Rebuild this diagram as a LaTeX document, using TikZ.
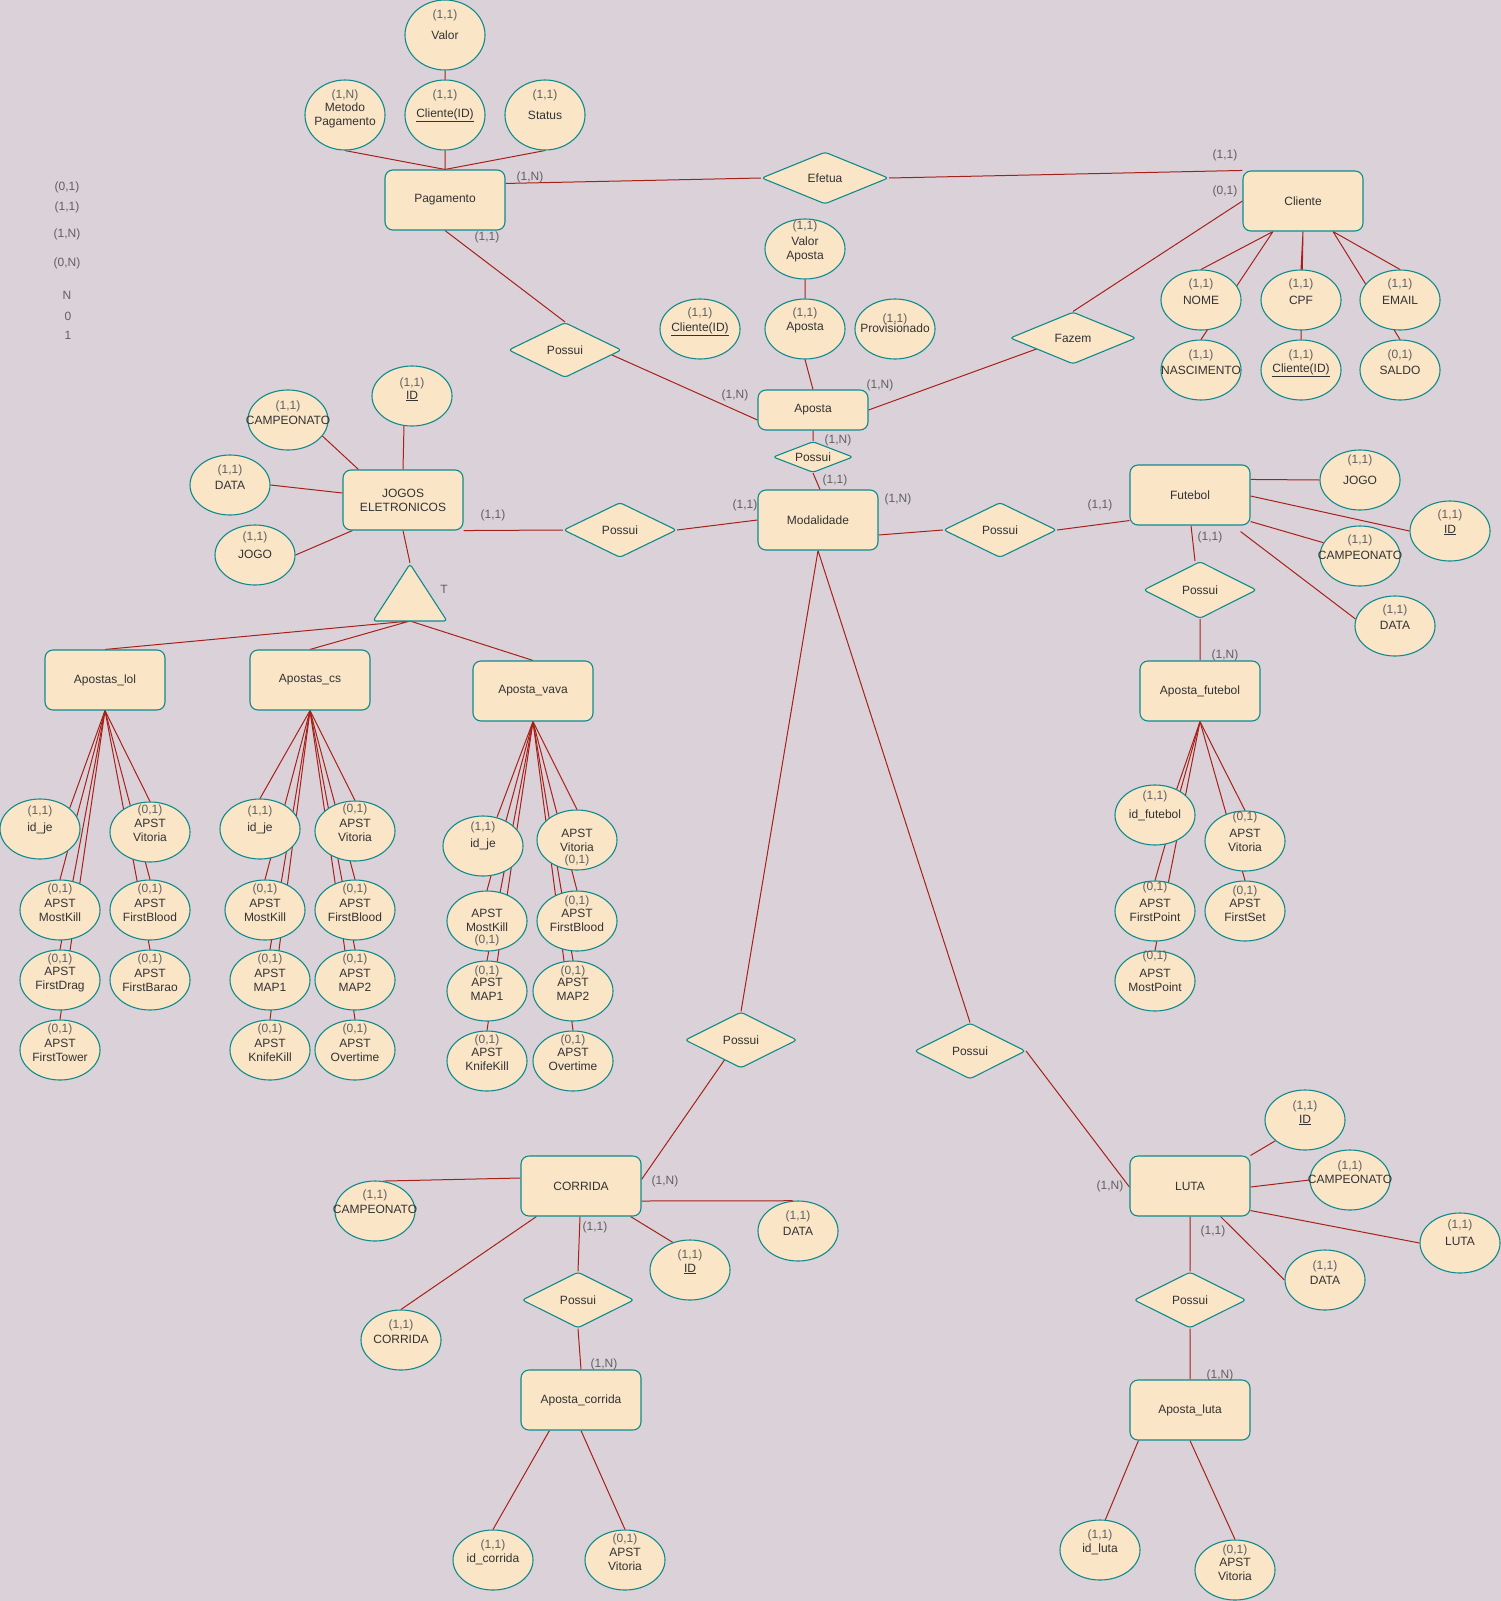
\documentclass[tikz,border=0pt]{standalone}
\usepackage{fontspec}
\setmainfont{Liberation Sans}
\usetikzlibrary{shapes.geometric,calc}
\pgfdeclarelayer{bg}
\pgfsetlayers{bg,main}
\definecolor{bgc}{HTML}{DAD2D8}
\definecolor{fillc}{HTML}{FAE5C7}
\definecolor{strokec}{HTML}{0F8B8D}
\definecolor{edgec}{HTML}{A8201A}
\definecolor{namec}{HTML}{333333}
\definecolor{cardc}{HTML}{606060}
\tikzset{
 every node/.style={font=\fontsize{12}{14}\selectfont},
 entbox/.style={draw=strokec, fill=fillc, line width=1.1pt, rounded corners=8pt, minimum width=120pt, minimum height=60pt, inner sep=0pt, text=namec, align=center},
 relbox/.style={diamond, aspect=2, draw=strokec, fill=fillc, line width=1.1pt, rounded corners=3pt, inner sep=0pt, text=namec, minimum width=113pt, minimum height=55pt},
 attrbox/.style={ellipse, draw=strokec, fill=fillc, line width=1.1pt, inner sep=0pt, minimum width=80pt, minimum height=60pt},
 nametxt/.style={text=namec, inner sep=0pt, align=center},
 cardtxt/.style={text=cardc, inner sep=0pt},
 conn/.style={draw=edgec, line width=1pt},
}
% #1 opts, #2 name, #3 x, #4 y, #5 card y, #6 card, #7 name y, #8 name text
\newcommand\erattr[8][]{%
  \node[attrbox,#1] (#2) at (#3,#4) {};
  \node[cardtxt] (#2-c) at (#3,#5) {#6};
  \node[nametxt] (#2-n) at (#3,#7) {#8};
}
\begin{document}
\begin{tikzpicture}[x=1pt,y=-1pt]
\useasboundingbox (0,0) rectangle (1501,1601);

% entities
\node[entbox] (pag) at (445,200) {Pagamento};
\node[entbox] (cli) at (1303,201) {Cliente};
\node[entbox, minimum width=110pt, minimum height=40pt] (apo) at (813,410) {Aposta};
\node[entbox] (mod) at (818,520) {Modalidade};
\node[entbox] (je) at (403,500) {JOGOS\\ELETRONICOS};
\node[entbox] (lol) at (105,680) {Apostas\_lol};
\node[entbox] (cs) at (310,680) {Apostas\_cs};
\node[entbox] (vava) at (533,691) {Aposta\_vava};
\node[entbox] (fut) at (1190,495) {Futebol};
\node[entbox] (afut) at (1200,691) {Aposta\_futebol};
\node[entbox] (cor) at (581,1186) {CORRIDA};
\node[entbox] (acor) at (581,1400) {Aposta\_corrida};
\node[entbox] (luta) at (1190,1186) {LUTA};
\node[entbox] (aluta) at (1190,1410) {Aposta\_luta};

% relationships
\node[relbox, minimum width=127pt, minimum height=52pt] (efetua) at (825,178) {Efetua};
\node[relbox, minimum width=126pt, minimum height=52pt] (fazem) at (1073,338) {Fazem};
\node[relbox] (pos1) at (565,350) {Possui};
\node[relbox, aspect=2.6, minimum width=80pt, minimum height=31pt] (pos2) at (813,457) {Possui};
\node[relbox] (posje) at (620,530) {Possui};
\node[relbox] (posfut) at (1000,530) {Possui};
\node[relbox, minimum height=57pt] (posf2) at (1200,590) {Possui};
\node[relbox, minimum width=112pt, minimum height=56pt] (poscor) at (741,1040) {Possui};
\node[relbox, minimum width=111pt, minimum height=56pt] (posluta) at (970,1051) {Possui};
\node[relbox, minimum width=112pt, minimum height=56pt] (posc2) at (578,1300) {Possui};
\node[relbox, minimum width=112pt, minimum height=56pt] (posl2) at (1190,1300) {Possui};

% specialisation triangle
\draw[draw=strokec, fill=fillc, line width=1.1pt, rounded corners=3pt] (410,564) -- (447,621) -- (373,621) -- cycle;
\coordinate (triT) at (410,563);
\coordinate (triB) at (410,621);
\node[cardtxt] (k21) at (444,589) {T};

% attributes: top
\erattr[minimum height=70pt]{valor}{445}{35}{15}{(1,1)}{35}{Valor}
\erattr[minimum height=70pt]{metodo}{345}{115}{95}{(1,N)}{115.5}{Metodo\\Pagamento}
\erattr[minimum height=70pt]{cidp}{445}{115}{95}{(1,1)}{115}{\underline{Cliente(ID)}}
\erattr[minimum height=70pt]{status}{545}{115}{95}{(1,1)}{115}{Status}
% cliente
\erattr{nome}{1201}{300}{284}{(1,1)}{300}{NOME}
\erattr{cpf}{1301}{300}{284}{(1,1)}{300}{CPF}
\erattr{email}{1400}{300}{284}{(1,1)}{300}{EMAIL}
\erattr{nasc}{1201}{370}{355}{(1,1)}{370}{NASCIMENTO}
\erattr{cidc}{1301}{370}{355}{(1,1)}{370}{\underline{Cliente(ID)}}
\erattr{saldo}{1400}{370}{355}{(0,1)}{370}{SALDO}
% aposta
\erattr{vap}{805}{249}{226}{(1,1)}{249.5}{Valor\\Aposta}
\erattr{aap}{805}{329}{313}{(1,1)}{328}{Aposta}
\erattr{cida}{700}{329}{313}{(1,1)}{329}{\underline{Cliente(ID)}}
\erattr{prov}{895}{329}{319}{(1,1)}{328}{Provisionado}
% jogos eletronicos
\erattr{jeid}{412}{396}{383}{(1,1)}{396}{\underline{ID}}
\erattr{jecamp}{288}{420}{406}{(1,1)}{420}{CAMPEONATO}
\erattr{jedata}{230}{485}{470}{(1,1)}{485}{DATA}
\erattr{jejogo}{255}{555}{537}{(1,1)}{554}{JOGO}
% lol
\erattr{lolid}{40}{829}{811}{(1,1)}{828}{id\_je}
\erattr{lolvit}{150}{832}{810}{(0,1)}{830.5}{APST\\Vitoria}
\erattr{lolmk}{60}{910}{889}{(0,1)}{910}{APST\\MostKill}
\erattr{lolfb}{150}{910}{889}{(0,1)}{910}{APST\\FirstBlood}
\erattr{lolfd}{60}{980}{959}{(0,1)}{980}{APST\\FirstDrag}
\erattr{lolfbar}{150}{980}{959}{(0,1)}{980}{APST\\FirstBarao}
\erattr{lolft}{60}{1050}{1029}{(0,1)}{1050}{APST\\FirstTower}
% cs
\erattr{csid}{260}{829}{811}{(1,1)}{828}{id\_je}
\erattr{csvit}{355}{831}{809}{(0,1)}{830}{APST\\Vitoria}
\erattr{csmk}{265}{910}{889}{(0,1)}{910}{APST\\MostKill}
\erattr{csfb}{355}{910}{889}{(0,1)}{910}{APST\\FirstBlood}
\erattr{csm1}{270}{980}{959}{(0,1)}{980}{APST\\MAP1}
\erattr{csm2}{355}{980}{959}{(0,1)}{980}{APST\\MAP2}
\erattr{cskk}{270}{1050}{1029}{(0,1)}{1050}{APST\\KnifeKill}
\erattr{csot}{355}{1050}{1029}{(0,1)}{1050}{APST\\Overtime}
% vava
\erattr{vid}{483}{846}{827}{(1,1)}{844}{id\_je}
\erattr{vvit}{577}{840}{860}{(0,1)}{840}{APST\\Vitoria}
\erattr{vmk}{487}{921}{940}{(0,1)}{920}{APST\\MostKill}
\erattr{vfb}{577}{921}{901}{(0,1)}{920}{APST\\FirstBlood}
\erattr{vm1}{487}{991}{971}{(0,1)}{989.5}{APST\\MAP1}
\erattr{vm2}{573}{991}{971}{(0,1)}{989.5}{APST\\MAP2}
\erattr{vkk}{487}{1061}{1040}{(0,1)}{1059.5}{APST\\KnifeKill}
\erattr{vot}{573}{1061}{1040}{(0,1)}{1059.5}{APST\\Overtime}
% futebol
\erattr{fjogo}{1360}{480}{460}{(1,1)}{480}{JOGO}
\erattr{fid}{1450}{531}{515}{(1,1)}{530}{\underline{ID}}
\erattr{fcamp}{1360}{556}{540}{(1,1)}{555}{CAMPEONATO}
\erattr{fdata}{1395}{626}{610}{(1,1)}{625}{DATA}
\erattr{fidf}{1155}{815}{796}{(1,1)}{815}{id\_futebol}
\erattr{fvit}{1245}{841}{817}{(0,1)}{840}{APST\\Vitoria}
\erattr{ffp}{1155}{911}{887}{(0,1)}{910.5}{APST\\FirstPoint}
\erattr{ffs}{1245}{911}{891}{(0,1)}{910.5}{APST\\FirstSet}
\erattr{fmp}{1155}{981}{956}{(0,1)}{980.5}{APST\\MostPoint}
% corrida
\erattr{ccamp}{375}{1211}{1195}{(1,1)}{1209}{CAMPEONATO}
\erattr{cdata}{798}{1231}{1216}{(1,1)}{1231}{DATA}
\erattr{cidr}{690}{1270}{1255}{(1,1)}{1269}{\underline{ID}}
\erattr{ccor}{401}{1340}{1325}{(1,1)}{1339}{CORRIDA}
\erattr{cidcor}{493}{1560}{1545}{(1,1)}{1559}{id\_corrida}
\erattr{cvit}{625}{1560}{1539}{(0,1)}{1559.5}{APST\\Vitoria}
% luta
\erattr{lid}{1305}{1120}{1106}{(1,1)}{1120}{\underline{ID}}
\erattr{lcamp}{1350}{1180}{1166}{(1,1)}{1179}{CAMPEONATO}
\erattr{lluta}{1460}{1243}{1225}{(1,1)}{1241}{LUTA}
\erattr{ldata}{1325}{1280}{1266}{(1,1)}{1280}{DATA}
\erattr{lidl}{1100}{1550}{1535}{(1,1)}{1549}{id\_luta}
\erattr{lvit}{1235}{1570}{1550}{(0,1)}{1569.5}{APST\\Vitoria}

% cardinality labels
\node[cardtxt] (k1) at (530,177) {(1,N)};
\node[cardtxt] (k2) at (487,237) {(1,1)};
\node[cardtxt] (k3) at (1225,155) {(1,1)};
\node[cardtxt] (k4) at (1225,191) {(0,1)};
\node[cardtxt] (k5) at (735,395) {(1,N)};
\node[cardtxt] (k6) at (880,385) {(1,N)};
\node[cardtxt] (k7) at (838,440) {(1,N)};
\node[cardtxt] (k8) at (835,480) {(1,1)};
\node[cardtxt] (k9) at (745,505) {(1,1)};
\node[cardtxt] (k10) at (898,499) {(1,N)};
\node[cardtxt] (k11) at (493,515) {(1,1)};
\node[cardtxt] (k12) at (1100,505) {(1,1)};
\node[cardtxt] (k13) at (1210,537) {(1,1)};
\node[cardtxt] (k14) at (1225,655) {(1,N)};
\node[cardtxt] (k15) at (665,1181) {(1,N)};
\node[cardtxt] (k16) at (595,1227) {(1,1)};
\node[cardtxt] (k17) at (604,1364) {(1,N)};
\node[cardtxt] (k18) at (1110,1186) {(1,N)};
\node[cardtxt] (k19) at (1213,1231) {(1,1)};
\node[cardtxt] (k20) at (1220,1375) {(1,N)};

% legend
\node[cardtxt] (g1) at (67,187) {(0,1)};
\node[cardtxt] (g2) at (67,207) {(1,1)};
\node[cardtxt] (g3) at (67,234) {(1,N)};
\node[cardtxt] (g4) at (67,263) {(0,N)};
\node[cardtxt] (g5) at (67,295) {N};
\node[cardtxt] (g6) at (68,316) {0};
\node[cardtxt] (g7) at (68,335) {1};

\begin{pgfonlayer}{bg}
\fill[bgc] (0,0) rectangle (1501,1601);
\path[conn]
 (valor.south) -- (cidp.north)
 (metodo.south) -- (pag.north)
 (cidp.south) -- (pag.north)
 (status.south) -- (pag.north)
 ($(pag.north east)+(0,14)$) -- (efetua.west)
 (efetua.east) -- (cli.north west)
 (pag.south) -- (pos1.north)
 ($(pos1.east)+(-10,5)$) -- ($(apo.west)+(0,10)$)
 (fazem.north) -- (cli.west)
 ($(fazem.west)+(27,11)$) -- (apo.east)
 ($(cli.south)+(-30,0)$) -- (nome.north)
 ($(cli.south)+(-30,0)$) -- (nasc.north)
 (cli.south) -- (cpf.north)
 (cli.south) -- (cidc.north)
 ($(cli.south)+(30,0)$) -- (email.north)
 ($(cli.south)+(30,0)$) -- (saldo.north)
 (vap.south) -- (aap.north)
 (aap.south) -- (apo.north)
 (apo.south) -- (pos2.north)
 (pos2.south) -- ($(mod.north)+(2,0)$)
 ($(mod.east)+(0,15)$) -- (posfut.west)
 (mod.west) -- (posje.east)
 (je.south east) -- (posje.west)
 (jeid.255) -- (je.north)
 (jecamp.-25) -- ($(je.north west)+(16,0)$)
 (jedata.east) -- ($(je.west)+(0,-7)$)
 (jejogo.east) -- ($(je.south west)+(10,0)$)
 (je.south) -- (triT)
 (triB) -- (lol.north)
 (triB) -- (cs.north)
 (triB) -- (vava.north)
 (lol.south) -- (lolid.35)
 (vava.south) -- (vid.64)
 (posfut.east) -- ($(fut.south west)+(0,-5)$)
 ($(fut.north east)+(0,15)$) -- (fjogo.west)
 ($(fut.east)+(0,1)$) -- (fid.west)
 ($(fut.south east)+(0,-4)$) -- (fcamp.160)
 ($(fut.south east)+(-10,6)$) -- (fdata.170)
 ($(fut.south)+(1,0)$) -- ($(posf2.north)+(-5,0)$)
 (posf2.south) -- (afut.north)
 (afut.south) -- (fidf.50)
 (mod.south) -- (poscor.north)
 (mod.south) -- (posluta.north)
 ($(poscor.west)+(40,20)$) -- ($(cor.north east)+(0,24)$)
 (posluta.east) -- ($(luta.west)+(0,1)$)
 ($(cor.west)+(0,-8)$) -- (ccamp.75)
 ($(cor.east)+(0,15)$) -- (cdata.100)
 ($(cor.south east)+(-11,0)$) -- (cidr.122)
 ($(cor.south west)+(16,0)$) -- (ccor.north)
 ($(cor.south)+(-1,0)$) -- (posc2.north)
 (posc2.south) -- (acor.north)
 ($(acor.south west)+(29,0)$) -- (cidcor.north)
 (acor.south) -- (cvit.north)
 (luta.north east) -- (lid.215)
 ($(luta.east)+(0,1)$) -- (lcamp.west)
 ($(luta.south east)+(0,-6)$) -- (lluta.west)
 ($(luta.south east)+(-30,0)$) -- (ldata.west)
 (luta.south) -- (posl2.north)
 (posl2.south) -- (aluta.north)
 ($(aluta.south west)+(9,0)$) -- (lidl.80)
 (aluta.south) -- (lvit.north);
\foreach \t in {lolmk,lolfd,lolft,lolvit,lolfb,lolfbar}{\draw[conn] (lol.south) -- (\t.north);}
\foreach \t in {csid,csmk,csm1,cskk,csvit,csfb,csm2,csot}{\draw[conn] (cs.south) -- (\t.north);}
\foreach \t in {vmk,vm1,vkk,vvit,vfb,vm2,vot}{\draw[conn] (vava.south) -- (\t.north);}
\foreach \t in {ffp,fmp,fvit,ffs}{\draw[conn] (afut.south) -- (\t.north);}
\end{pgfonlayer}
\end{tikzpicture}
\end{document}
